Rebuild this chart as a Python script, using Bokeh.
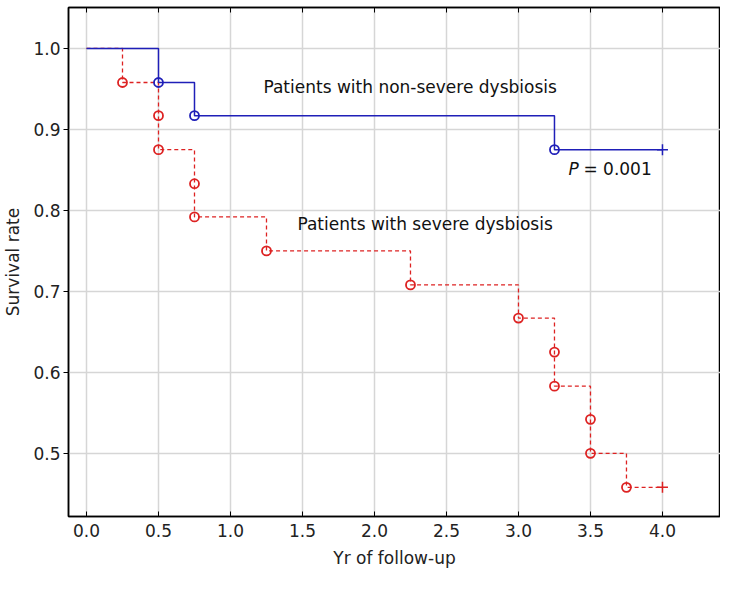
from bokeh.plotting import figure
from bokeh.models import FixedTicker, NumeralTickFormatter, LinearAxis, Range1d
from bokeh.core.properties import value
from bokeh.embed import file_html
from bokeh.resources import INLINE

# Kaplan-Meier data (years, survival)
mild_t = [0.0, 0.5, 0.75, 3.25, 4.0]
mild_s = [1.0, 0.958, 0.917, 0.875, 0.875]
severe_t = [0.0, 0.25, 0.5, 0.5, 0.75, 0.75, 1.25, 2.25, 3.0, 3.25, 3.25, 3.5, 3.5, 3.75, 4.0]
severe_s = [1.0, 0.958, 0.917, 0.875, 0.833, 0.792, 0.75, 0.708, 0.667, 0.625, 0.583, 0.542, 0.5, 0.458, 0.458]
x_ticks = [0.0, 0.5, 1.0, 1.5, 2.0, 2.5, 3.0, 3.5, 4.0]
y_ticks = [0.5, 0.6, 0.7, 0.8, 0.9, 1.0]

FONT = "DejaVu Sans"
BLUE = "#1f1fb8"
RED = "#dd2222"

p = figure(width=720, height=573, output_backend="svg", toolbar_location=None,
           x_range=Range1d(-0.125, 4.403), y_range=Range1d(0.422, 1.0506),
           min_border_left=68, min_border_right=0, min_border_top=7, min_border_bottom=57)
p.background_fill_color = "white"
p.border_fill_color = "white"
p.outline_line_color = "black"
p.outline_line_width = 1.5

for ax in (p.xaxis[0], p.yaxis[0]):
    ax.axis_line_color = "black"
    ax.axis_line_width = 1.5
    ax.major_tick_line_color = "black"
    ax.minor_tick_line_color = None
    ax.major_label_text_font = FONT
    ax.major_label_text_font_size = "17px"
    ax.major_label_text_color = "#222222"
    ax.axis_label_text_font = FONT
    ax.axis_label_text_font_size = "17px"
    ax.axis_label_text_font_style = "normal"
    ax.axis_label_text_color = "#222222"

p.xaxis.ticker = FixedTicker(ticks=x_ticks)
p.yaxis.ticker = FixedTicker(ticks=y_ticks)
p.xaxis.formatter = NumeralTickFormatter(format="0.0")
p.yaxis.formatter = NumeralTickFormatter(format="0.0")
p.xaxis.major_tick_in = 5
p.xaxis.major_tick_out = 0
p.yaxis.major_tick_in = 0
p.yaxis.major_tick_out = 5
p.xaxis.axis_label = "Yr of follow-up"
p.yaxis.axis_label = "Survival rate"
p.xaxis.major_label_standoff = 7
p.xaxis.axis_label_standoff = 8
p.yaxis.major_label_standoff = 3
p.yaxis.axis_label_standoff = 7

top = LinearAxis(ticker=FixedTicker(ticks=x_ticks), major_label_text_font_size="0px",
                 major_tick_in=5, major_tick_out=0, axis_line_width=1.5,
                 minor_tick_line_color=None, major_label_text_alpha=0)
p.add_layout(top, "above")

p.xgrid.ticker = FixedTicker(ticks=x_ticks)
p.ygrid.ticker = FixedTicker(ticks=y_ticks)
p.grid.grid_line_color = "#d6d6d6"
p.grid.grid_line_width = 1.5

# severe
p.step(severe_t, severe_s, mode="after", line_color=RED, line_width=1.3, line_dash="4 3")
p.scatter(severe_t[1:-1], severe_s[1:-1], marker="circle", size=9, line_color=RED,
          line_width=1.8, fill_alpha=0)
p.scatter([severe_t[-1]], [severe_s[-1]], marker="cross", size=11, line_color=RED, line_width=1.5)

# non-severe
p.step(mild_t, mild_s, mode="after", line_color=BLUE, line_width=1.5)
p.scatter(mild_t[1:-1], mild_s[1:-1], marker="circle", size=9, line_color=BLUE,
          line_width=1.8, fill_alpha=0)
p.scatter([mild_t[-1]], [mild_s[-1]], marker="cross", size=11, line_color=BLUE, line_width=1.5)

# annotations
TS = "17px"
p.text(x=[1.229], y=[0.952], text=["Patients with non-severe dysbiosis"], text_font=value(FONT),
       text_font_size=TS, text_color="#111111", text_baseline="middle", text_align="left")
p.text(x=[1.465], y=[0.783], text=["Patients with severe dysbiosis"], text_font=value(FONT),
       text_font_size=TS, text_color="#111111", text_baseline="middle", text_align="left")
p.text(x=[3.347], y=[0.851], text=["P"], text_font=value(FONT), text_font_style="italic",
       text_font_size=TS, text_color="#111111", text_baseline="middle", text_align="left")
p.text(x=[3.451], y=[0.851], text=["= 0.001"], text_font=value(FONT),
       text_font_size=TS, text_color="#111111", text_baseline="middle", text_align="left")

open("out.html", "w").write(file_html(p, INLINE))
